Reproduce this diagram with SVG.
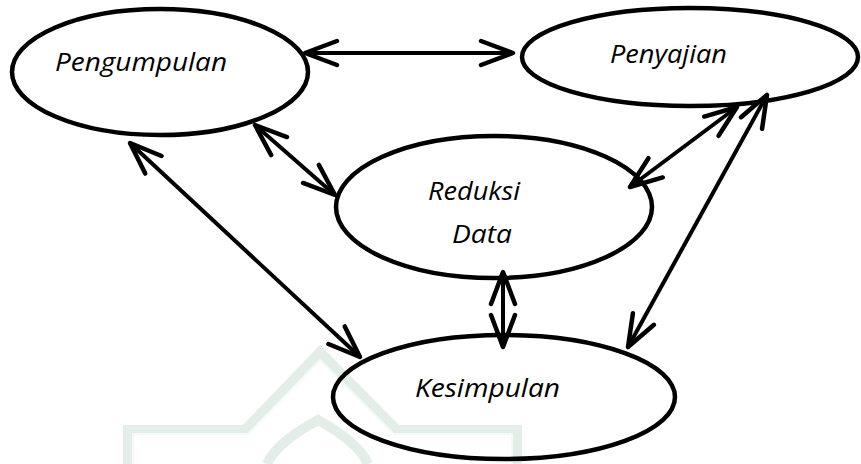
<svg xmlns="http://www.w3.org/2000/svg" width="861" height="464" viewBox="0 0 861 464">
<style>
.node ellipse{fill:none;stroke:#000;stroke-width:4.5}
.lbl{font-family:"Open Sans","Noto Sans",sans-serif;font-style:italic;font-size:25px;fill:#000}
.con line{stroke:#000;stroke-width:4;marker-start:url(#ah);marker-end:url(#ah)}
.wm{fill:none;stroke:#e2eee7;stroke-width:10;stroke-linejoin:miter}
.wm2{fill:none;stroke:#f5f9f7;stroke-width:2}
</style>
<defs>
<marker id="ah" viewBox="-36 -16 40 32" markerWidth="40" markerHeight="32" refX="0" refY="0" orient="auto-start-reverse" markerUnits="userSpaceOnUse">
<path d="M-32,-12 L0,0 L-32,12" fill="none" stroke="#000" stroke-width="4.5" stroke-linecap="round" stroke-linejoin="round"/>
</marker>
</defs>
<rect width="861" height="464" fill="#fff"/>
<g id="watermark">
<path class="wm" d="M128,464 L128,430 L245,430 L320,352 L397,430 L517,430 L517,464"/>
<path class="wm2" d="M133,464 L133,434 L248,434 L320,360 L394,434 L512,434 L512,464"/>
<path class="wm" d="M267,464 C275,445 300,430 318,420 C336,430 360,445 368,464"/>
</g>
<g class="con" id="connectors">
<line x1="305" y1="53" x2="513" y2="53"/>
<line x1="255" y1="125" x2="335" y2="195"/>
<line x1="130" y1="143" x2="360" y2="357"/>
<line x1="630" y1="187" x2="737" y2="107"/>
<line x1="767" y1="95" x2="628" y2="347"/>
<line x1="503" y1="272" x2="503" y2="347"/>
</g>
<g class="node" id="pengumpulan">
<ellipse cx="160" cy="72" rx="148" ry="63"/>
<text class="lbl" x="55" y="71" textLength="172" lengthAdjust="spacingAndGlyphs">Pengumpulan</text>
</g>
<g class="node" id="penyajian">
<ellipse cx="690" cy="57" rx="168" ry="49"/>
<text class="lbl" x="610" y="63" textLength="117" lengthAdjust="spacingAndGlyphs">Penyajian</text>
</g>
<g class="node" id="reduksi">
<ellipse cx="494" cy="207" rx="158" ry="71"/>
<text class="lbl" x="428" y="200" textLength="92" lengthAdjust="spacingAndGlyphs">Reduksi</text>
<text class="lbl" x="452" y="243" textLength="60" lengthAdjust="spacingAndGlyphs">Data</text>
</g>
<g class="node" id="kesimpulan">
<ellipse cx="504" cy="397" rx="171" ry="62"/>
<text class="lbl" x="415" y="397" textLength="145" lengthAdjust="spacingAndGlyphs">Kesimpulan</text>
</g>
</svg>
